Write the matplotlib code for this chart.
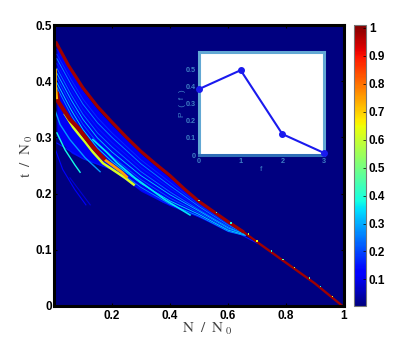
import matplotlib
matplotlib.use("Agg")
import matplotlib.pyplot as plt
from matplotlib.cm import ScalarMappable
from matplotlib.colors import Normalize

# inset distribution
f_vals = [0, 1, 2, 3]
p_vals = [0.384, 0.494, 0.122, 0.012]

# main ridge, upper thick part and lower thin part
main_n = [0.008, 0.05, 0.1, 0.15, 0.2, 0.25, 0.3, 0.35, 0.4, 0.45, 0.5, 0.55, 0.6, 0.65]
main_t = [0.468, 0.428, 0.388, 0.355, 0.327, 0.300, 0.275, 0.253, 0.232, 0.208, 0.186, 0.168, 0.150, 0.133]
tail_n = [0.6, 0.65, 0.7, 0.8, 0.9, 0.99]
tail_t = [0.150, 0.133, 0.114, 0.077, 0.040, 0.002]

# lower edge of the fan
edge_n = [0.01, 0.1, 0.2, 0.272, 0.376, 0.459, 0.538, 0.641, 0.7]
edge_t = [0.29, 0.262, 0.243, 0.216, 0.185, 0.168, 0.150, 0.128, 0.112]

# thin lines in the fan, same N columns
fan_n = [0.01, 0.06, 0.1, 0.15, 0.2, 0.3, 0.4, 0.5, 0.6, 0.66]
fan_t = [
    [0.457, 0.411, 0.377, 0.344, 0.317, 0.267, 0.225, 0.183, 0.148, 0.129],
    [0.448, 0.402, 0.368, 0.335, 0.308, 0.260, 0.220, 0.180, 0.146, 0.128],
    [0.440, 0.393, 0.359, 0.326, 0.300, 0.253, 0.214, 0.177, 0.144, 0.128],
    [0.431, 0.384, 0.350, 0.317, 0.291, 0.246, 0.209, 0.174, 0.142, 0.127],
    [0.423, 0.375, 0.341, 0.308, 0.283, 0.239, 0.203, 0.171, 0.141, 0.127],
    [0.414, 0.366, 0.332, 0.299, 0.274, 0.232, 0.198, 0.169, 0.139, 0.127],
    [0.406, 0.357, 0.323, 0.290, 0.266, 0.225, 0.192, 0.166, 0.137, 0.126],
    [0.397, 0.348, 0.314, 0.281, 0.257, 0.218, 0.187, 0.163, 0.135, 0.126],
    [0.389, 0.339, 0.305, 0.272, 0.249, 0.211, 0.181, 0.160, 0.133, 0.125],
]
fan_val = [0.12, 0.18, 0.27, 0.16, 0.25, 0.33, 0.22, 0.36, 0.28]
wash_top = [0.462, 0.418, 0.383, 0.350, 0.322, 0.271, 0.228, 0.184, 0.149, 0.129]
wash_low = [0.30, 0.272, 0.262, 0.252, 0.243, 0.204, 0.178, 0.158, 0.132, 0.125]

# strong band
red_n = [0.01, 0.014, 0.028, 0.055, 0.083, 0.107, 0.134, 0.159, 0.176]
red_t = [0.381, 0.364, 0.353, 0.332, 0.317, 0.301, 0.283, 0.269, 0.26]
orange_n = [0.176, 0.203, 0.234, 0.25]
orange_t = [0.26, 0.250, 0.238, 0.23]
yellow_n = [0.038, 0.066, 0.083, 0.107, 0.134, 0.169, 0.21, 0.245, 0.275]
yellow_t = [0.341, 0.318, 0.307, 0.292, 0.274, 0.254, 0.240, 0.228, 0.216]
cyan_n = [0.134, 0.183, 0.217, 0.279, 0.383, 0.469]
cyan_t = [0.296, 0.273, 0.255, 0.228, 0.189, 0.162]

# faint lines below the band
low1_n = [0.01, 0.038, 0.072, 0.09]
low1_t = [0.308, 0.278, 0.251, 0.238]
low2_n = [0.003, 0.021, 0.055, 0.107, 0.159]
low2_t = [0.349, 0.323, 0.296, 0.264, 0.239]
low3_n = [0.005, 0.03, 0.072, 0.11]
low3_t = [0.278, 0.243, 0.207, 0.18]
low4_n = [0.055, 0.125]
low4_t = [0.228, 0.18]
left_n = [0.006, 0.006, 0.01]
left_t = [0.42, 0.395, 0.37]

# bright pixels next to the main ridge
speck_n = [0.50, 0.56, 0.61, 0.67, 0.70, 0.75, 0.79, 0.83, 0.88, 0.92, 0.96]
speck_t = [0.188, 0.166, 0.148, 0.128, 0.116, 0.098, 0.083, 0.068, 0.050, 0.035, 0.017]
speck_val = [0.5, 0.45, 0.4, 0.6, 0.65, 0.4, 0.5, 0.6, 0.45, 0.4, 0.65]

x_ticks = [0.2, 0.4, 0.6, 0.8, 1]
x_labels = ["0.2", "0.4", "0.6", "0.8", "1"]
y_ticks = [0, 0.1, 0.2, 0.3, 0.4, 0.5]
y_labels = ["0", "0.1", "0.2", "0.3", "0.4", "0.5"]
cb_ticks = [0.1, 0.2, 0.3, 0.4, 0.5, 0.6, 0.7, 0.8, 0.9, 1]
cb_labels = ["0.1", "0.2", "0.3", "0.4", "0.5", "0.6", "0.7", "0.8", "0.9", "1"]

plt.rcParams["font.family"] = ["Liberation Sans", "DejaVu Sans"]
plt.rcParams["mathtext.fontset"] = "stix"

W, H = 415, 345
fig = plt.figure(figsize=(W / 100, H / 100), dpi=100)
cmap = plt.get_cmap("jet")
norm = Normalize(0.005, 1.01)


def axes_px(left, right, top, bottom):
    return fig.add_axes([left / W, 1 - bottom / H, (right - left) / W, (bottom - top) / H])


ax = axes_px(54, 344, 25, 306)
ax.set_facecolor(cmap(0.0))
ax.set_xlim(0, 1)
ax.set_ylim(0, 0.5)

# blue wash under the fan
ax.fill_between(fan_n, wash_low, wash_top, color=cmap(norm(0.11)), lw=0)
ax.plot(edge_n, edge_t, color=cmap(norm(0.15)), lw=0.8)

for row, val in zip(fan_t, fan_val):
    ax.plot(fan_n, row, color=cmap(norm(val)), lw=0.6)

ax.plot(low3_n, low3_t, color=cmap(norm(0.12)), lw=0.8)
ax.plot(low4_n, low4_t, color=cmap(norm(0.08)), lw=0.8)
ax.plot(low1_n, low1_t, color=cmap(norm(0.38)), lw=1.0)
ax.plot(low2_n, low2_t, color=cmap(norm(0.28)), lw=1.0)
ax.plot(cyan_n, cyan_t, color=cmap(norm(0.36)), lw=1.2)
ax.plot(yellow_n, yellow_t, color=cmap(norm(0.62)), lw=1.8)
ax.plot(orange_n, orange_t, color=cmap(norm(0.75)), lw=2.0)
ax.plot(red_n, red_t, color=cmap(norm(0.98)), lw=3.0, solid_capstyle="butt")
ax.plot(left_n, left_t, color=cmap(norm(0.72)), lw=1.6)
ax.plot(main_n, main_t, color=cmap(norm(0.98)), lw=2.3)
ax.plot(tail_n, tail_t, color=cmap(norm(0.98)), lw=1.7)

ax.scatter(speck_n, speck_t, c=speck_val, cmap=cmap, norm=norm, s=1, marker="s", lw=0, zorder=4)

ax.set_xticks(x_ticks, x_labels)
ax.set_yticks(y_ticks, y_labels)
ax.tick_params(direction="in", length=2.5, width=0.8, top=True, right=True)
for lab in ax.get_xticklabels() + ax.get_yticklabels():
    lab.set_fontsize(8.5)
    lab.set_fontweight("bold")
ax.tick_params(axis="x", pad=3)
ax.tick_params(axis="y", pad=1.5)
for s in ax.spines.values():
    s.set_linewidth(2.2)
    s.set_color("black")

fig.text(207 / W, 1 - 329 / H, r"$\mathrm{N\ \ /\ \ N}_{\ \mathrm{0}}$", fontsize=11,
         color="#444444", ha="center", va="center")
fig.text(27 / W, 1 - 156 / H, r"$\mathrm{t\ \ /\ \ N}_{\ \mathrm{0}}$", fontsize=11,
         color="#444444", ha="center", va="center", rotation=90)

# inset
frame = "#62a8d4"
inset_text = "#3f7fc4"
inx = axes_px(199, 324, 52, 155)
inx.set_xlim(0, 3)
inx.set_ylim(0, 0.6)
inx.plot(f_vals, p_vals, color="#1a1aee", lw=1.5, marker="o", ms=4, clip_on=False, zorder=5)
inx.set_xticks(f_vals, ["0", "1", "2", "3"])
inx.set_yticks([0, 0.1, 0.2, 0.3, 0.4, 0.5], ["0", "0.1", "0.2", "0.3", "0.4", "0.5"])
inx.tick_params(length=0, labelsize=5.2, labelcolor=inset_text, pad=2)
for lab in inx.get_xticklabels() + inx.get_yticklabels():
    lab.set_fontweight("bold")
for s in inx.spines.values():
    s.set_linewidth(2.2)
    s.set_color(frame)
inx.spines["bottom"].set_color("#2f6fb8")
inx.set_xlabel("f", fontsize=6, color=inset_text, labelpad=1)
inx.set_ylabel("P  (  f  )", fontsize=6, color=inset_text, labelpad=0)

# colorbar
cax = axes_px(354, 366, 25, 306)
cb = fig.colorbar(ScalarMappable(norm=norm, cmap=cmap), cax=cax)
cb.set_ticks(cb_ticks, labels=cb_labels)
cb.ax.tick_params(direction="in", length=2, width=0.5, labelsize=8.5, pad=2)
for lab in cb.ax.get_yticklabels():
    lab.set_fontweight("bold")
cb.outline.set_edgecolor("#777777")
cb.outline.set_linewidth(0.8)

fig.savefig("out.png", dpi=100)
